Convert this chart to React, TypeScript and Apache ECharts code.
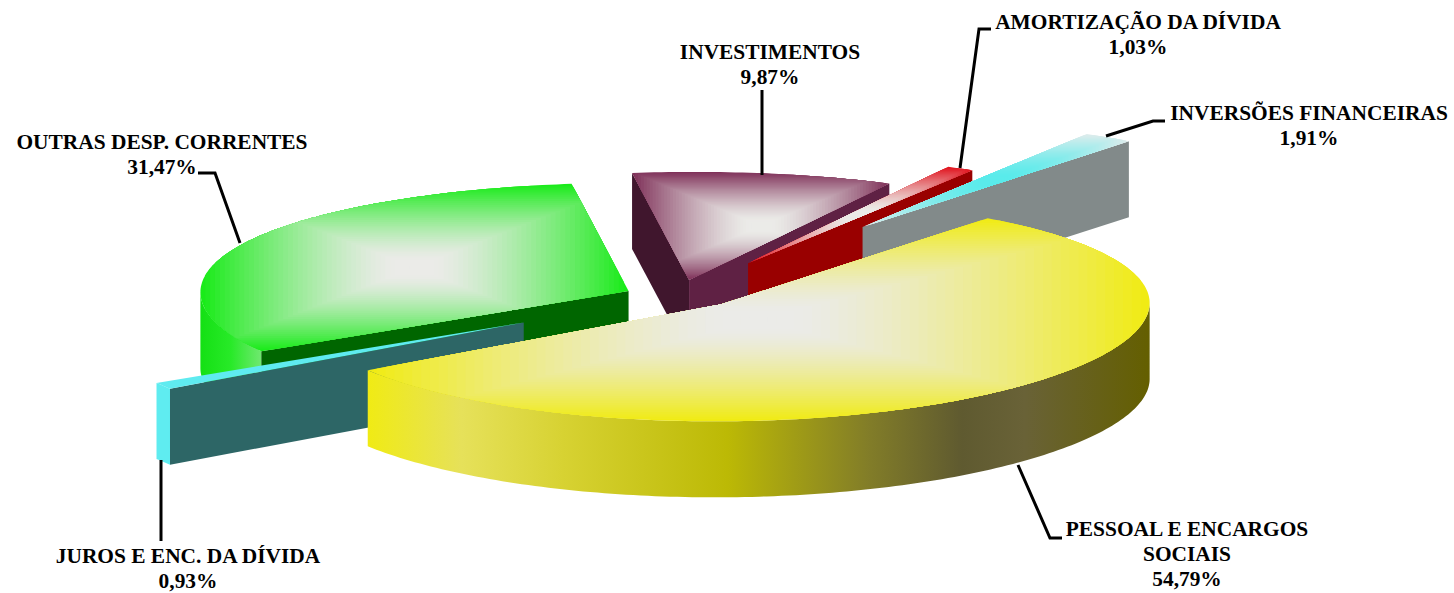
import React, { useEffect, useRef } from "react";
import * as echarts from "echarts";

// Data, in clockwise order around the pie
const names = ["PESSOAL E ENCARGOS\nSOCIAIS", "JUROS E ENC. DA DÍVIDA", "OUTRAS DESP. CORRENTES", "INVESTIMENTOS", "AMORTIZAÇÃO DA DÍVIDA", "INVERSÕES FINANCEIRAS"];
const values = [54.79, 0.93, 31.47, 9.87, 1.03, 1.91];
const explodeX = [0.085, -0.359, -0.143, -0.012, 0.11, 0.343];
const explodeY = [0.11, 0.31, 0.012, -0.0973, -0.26, -0.615];
const drawRank = [5, 1, 0, 2, 3, 4];

// Styles
const topEdge = [[240, 235, 20], [95, 235, 240], [25, 235, 25], [128, 50, 90], [225, 20, 30], [222, 236, 236]];
const topMid = [[235, 235, 232], [95, 235, 240], [235, 235, 232], [235, 235, 232], [235, 235, 232], [90, 235, 235]];
const startWall = ["none", "#2d6666", "#006600", "#40162d", "none", "none"];
const endWall = ["none", "none", "none", "#5f2144", "#990000", "#828a8a"];
const yellowWall: [number, string][] = [[0, "#f0eb14"], [0.12, "#e6e15a"], [0.25, "#d7d232"], [0.46, "#bcb905"], [0.64, "#827d28"], [0.76, "#5f5a30"], [0.84, "#696237"], [1, "#645f00"]];
const greenWall: [number, string][] = [[0, "#14e014"], [0.5, "#28ea28"], [1, "#70e870"]];
const purpleWall: [number, string][] = [[0, "#40162d"], [1, "#40162d"]];
const redWall: [number, string][] = [[0, "#990000"], [1, "#990000"]];
const cyanWall: [number, string][] = [[0, "#5fecf0"], [1, "#5fecf0"]];
const grayWall: [number, string][] = [[0, "#828a8a"], [1, "#828a8a"]];
const outerWalls = [yellowWall, cyanWall, greenWall, purpleWall, redWall, grayWall];

// Projection of the tilted disc
const CX = 690, CY = 291, RX = 426, RY = 112, SKEW = -43, TILT = 10, PERSP = 0.04, DEPTH = 76;
const START_ANGLE = -57.3;
const BANDS = 44, PLATEAU = 0.1;

// Labels and leaders
const labelPos = [[1187, 516], [188, 543], [162, 129], [770, 39], [1138, 9], [1309, 100]];
const leaders = [
  [[1018, 465], [1050, 538], [1062, 538]],
  [[161, 460], [161, 541]],
  [[198, 173], [215, 173], [240, 243]],
  [[762, 90], [762, 175]],
  [[991, 29], [979, 29], [960, 168]],
  [[1165, 121], [1153, 121], [1106, 136]],
];

type P = number[];
const rad = (d: number) => (d * Math.PI) / 180;
function rel(X: number, Y: number): P {
  return [RX * X + SKEW * Y, (RY * Y + TILT * X) / (1 - PERSP * Y)];
}
function clipRect(poly: P[], x0: number, y0: number, x1: number, y1: number): P[] {
  const clip = (pts: P[], inside: (p: P) => boolean, cross: (a: P, b: P) => P) => {
    const out: P[] = [];
    for (let i = 0; i < pts.length; i++) {
      const a = pts[i], b = pts[(i + 1) % pts.length];
      const ia = inside(a), ib = inside(b);
      if (ia) out.push(a);
      if (ia !== ib) out.push(cross(a, b));
    }
    return out;
  };
  const atX = (x: number) => (a: P, b: P) => [x, a[1] + ((b[1] - a[1]) * (x - a[0])) / (b[0] - a[0])];
  const atY = (y: number) => (a: P, b: P) => [a[0] + ((b[0] - a[0]) * (y - a[1])) / (b[1] - a[1]), y];
  let r = clip(poly, (p) => p[0] >= x0, atX(x0));
  r = clip(r, (p) => p[0] <= x1, atX(x1));
  r = clip(r, (p) => p[1] >= y0, atY(y0));
  r = clip(r, (p) => p[1] <= y1, atY(y1));
  return r;
}
const total = values.reduce((a, b) => a + b, 0);
const renderItem = (params: any, api: any) => {
  const i = params.dataIndex;
  const v = api.value(0);
  let before = 0;
  for (let j = 0; j < i; j++) before += values[j];
  const a0 = START_ANGLE + (before / total) * 360;
  const a1 = a0 + (v / total) * 360;
  const off = rel(explodeX[i], explodeY[i]);
  const apex = [CX + off[0], CY + off[1]];
  const apexB = [apex[0], apex[1] + DEPTH];
  const steps = Math.max(4, Math.ceil(a1 - a0));
  const top: P[] = [];
  for (let k = 0; k <= steps; k++) {
    const t = rad(a0 + ((a1 - a0) * k) / steps);
    const r = rel(Math.cos(t), Math.sin(t));
    top.push([apex[0] + r[0], apex[1] + r[1]]);
  }
  const bot = top.map((p) => [p[0], p[1] + DEPTH]);
  const base = drawRank[i] * 1000;
  const children: any[] = [];
  const poly = (points: P[], fill: any, z: number) => children.push({ type: "polygon", shape: { points }, style: { fill, stroke: null }, z2: base + z, silent: true });
  const stops = outerWalls[i].map(([offset, color]) => ({ offset, color }));
  // the outer wall shows only where the rim runs from right to left on screen
  const front: number[] = [];
  for (let k = 0; k < top.length - 1; k++) {
    if (top[k + 1][0] < top[k][0]) {
      if (!front.length) front.push(k);
      front.push(k + 1);
    }
  }
  if (front.length > 1) {
    const topF = front.map((k) => top[k]);
    const botF = front.map((k) => bot[k]);
    poly([...topF, ...botF.reverse()], new echarts.graphic.LinearGradient(0, 0, 1, 0, stops), 0);
  }
  if (startWall[i] !== "none") poly([apex, top[0], bot[0], apexB], startWall[i], 1);
  if (endWall[i] !== "none") poly([apex, top[top.length - 1], bot[bot.length - 1], apexB], endWall[i], 2);
  const shape = [apex, ...top];
  const xs = shape.map((p) => p[0]), ys = shape.map((p) => p[1]);
  const x0 = Math.min(...xs), x1 = Math.max(...xs), y0 = Math.min(...ys), y1 = Math.max(...ys);
  const mx = (x0 + x1) / 2, my = (y0 + y1) / 2, hw = (x1 - x0) / 2, hh = (y1 - y0) / 2;
  const same = topEdge[i].join() === topMid[i].join();
  const n = same ? 1 : BANDS;
  for (let b = 0; b < n; b++) {
    const d = 1 - b / n;
    const f = 1 - Math.pow(1 - Math.min(1, (1 - d) / (1 - PLATEAU)), 1.4);
    const col = topEdge[i].map((c, q) => Math.round(c + (topMid[i][q] - c) * f));
    const pts = clipRect(shape, mx - hw * d, my - hh * d, mx + hw * d, my + hh * d);
    if (pts.length > 2) poly(pts, `rgb(${col.join(",")})`, 3 + b);
  }
  return { type: "group", children };
};

export default function App() {
  const ref = useRef<HTMLDivElement>(null);
  useEffect(() => {
    const chart = echarts.init(ref.current!, undefined, { renderer: "svg" });
    const pct = (v: number) => v.toFixed(2).replace(".", ",") + "%";
    const graphic: any[] = [];
    names.forEach((name, i) => {
      graphic.push({
        type: "polyline",
        shape: { points: leaders[i] },
        style: { stroke: "#000", lineWidth: 3, fill: null },
        z: 10,
      });
      graphic.push({
        type: "text",
        x: labelPos[i][0],
        y: labelPos[i][1],
        style: {
          text: name + "\n" + pct(values[i]),
          font: 'bold 21.4px "Liberation Serif"',
          lineHeight: 25,
          fill: "#000",
          align: "center",
          verticalAlign: "top",
        },
        z: 11,
      });
    });
    chart.setOption({
      animation: false,
      backgroundColor: "#fff",
      graphic,
      series: [
        {
          type: "custom",
          coordinateSystem: "none",
          silent: true,
          clip: false,
          renderItem,
          data: values.map((v) => [v]),
        },
      ],
    });
    return () => chart.dispose();
  }, []);
  return <div ref={ref} style={{ position: "absolute", left: 0, top: 0, width: 1454, height: 593 }} />;
}
